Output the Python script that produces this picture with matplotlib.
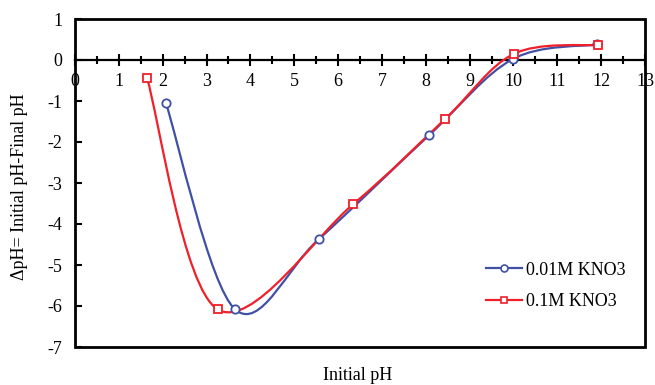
import numpy as np
import matplotlib.pyplot as plt
from matplotlib.path import Path
from matplotlib.patches import PathPatch, Rectangle
from matplotlib.lines import Line2D

plt.rcParams['font.family'] = ['Liberation Serif', 'DejaVu Serif']
plt.rcParams['axes.unicode_minus'] = False

# ---- data ----
ph_001 = [2.07, 3.65, 5.56, 8.08, 9.98, 11.9]
dph_001 = [-1.04, -6.08, -4.37, -1.83, 0.02, 0.38]

ph_01 = [1.64, 3.25, 6.35, 8.44, 10.01, 11.93]
dph_01 = [-0.43, -6.08, -3.51, -1.44, 0.15, 0.37]

labels = ["0.01M KNO3", "0.1M KNO3"]
colors = ["#4050A4", "#F0202A"]
markers = ["o", "s"]


def smooth_path(x, y):
    # Excel-style smoothed line: Catmull-Rom segments as cubic Bezier
    p = np.column_stack([x, y])
    verts = [p[0]]
    codes = [Path.MOVETO]
    n = len(p)
    for i in range(n - 1):
        p0 = p[i - 1] if i > 0 else p[i]
        p1, p2 = p[i], p[i + 1]
        p3 = p[i + 2] if i + 2 < n else p[i + 1]
        c1 = p1 + (p2 - p0) / 6
        c2 = p2 - (p3 - p1) / 6
        verts += [c1, c2, p2]
        codes += [Path.CURVE4] * 3
    return Path(verts, codes)


fig = plt.figure(figsize=(6.55, 3.85), dpi=100)
ax = fig.add_axes([75 / 655, 38 / 385, 570 / 655, 328 / 385])

series = [(ph_001, dph_001), (ph_01, dph_01)]
for (x, y), col, mk, lab in zip(series, colors, markers, labels):
    ax.add_patch(PathPatch(smooth_path(x, y), fill=False, edgecolor=col,
                           lw=1.6, zorder=3))
    ax.plot(x, y, ls="none", marker=mk, ms=6, mfc="white", mec=col,
            mew=1.3, zorder=4)

ax.set_xlim(0, 13)
ax.set_ylim(-7, 1)

# x axis crossing at y = 0, frame drawn around plot area
ax.spines["bottom"].set_position(("data", 0))
ax.spines["bottom"].set_linewidth(1.6)
for s in ["top", "right", "left"]:
    ax.spines[s].set_visible(False)
ax.add_patch(Rectangle((0, 0), 1, 1, transform=ax.transAxes, fill=False,
                       lw=2, ec="black", clip_on=False, zorder=5))

ax.set_xticks(np.arange(0, 14, 1))
ax.set_xticks(np.arange(0.5, 13, 1), minor=True)
ax.set_yticks(np.arange(-7, 2, 1))
ax.tick_params(axis="x", which="major", direction="inout", length=8,
               width=1.5, labelsize=13, pad=5)
ax.tick_params(axis="x", which="minor", direction="inout", length=6,
               width=1.5)
ax.tick_params(axis="y", which="major", direction="in", length=5,
               width=1.5, labelsize=13, pad=9)

ax.set_ylabel("ΔpH= Initial pH-Final pH", fontsize=13)
ax.yaxis.set_label_coords(-0.082, 0.49)
fig.text(358 / 655, 1 - 375 / 385, "Initial pH", fontsize=13,
         ha="center", va="center")

handles = [Line2D([0], [0], color=c, lw=1.6, marker=m, ms=5, mfc="white",
                  mec=c, mew=1.2) for c, m in zip(colors, markers)]
ax.legend(handles, labels, loc="upper left", bbox_to_anchor=(0.693, 0.31),
          frameon=False, fontsize=13, handlelength=2.0, handletextpad=0.2,
          labelspacing=0.8)

fig.savefig("out.png", dpi=100)
